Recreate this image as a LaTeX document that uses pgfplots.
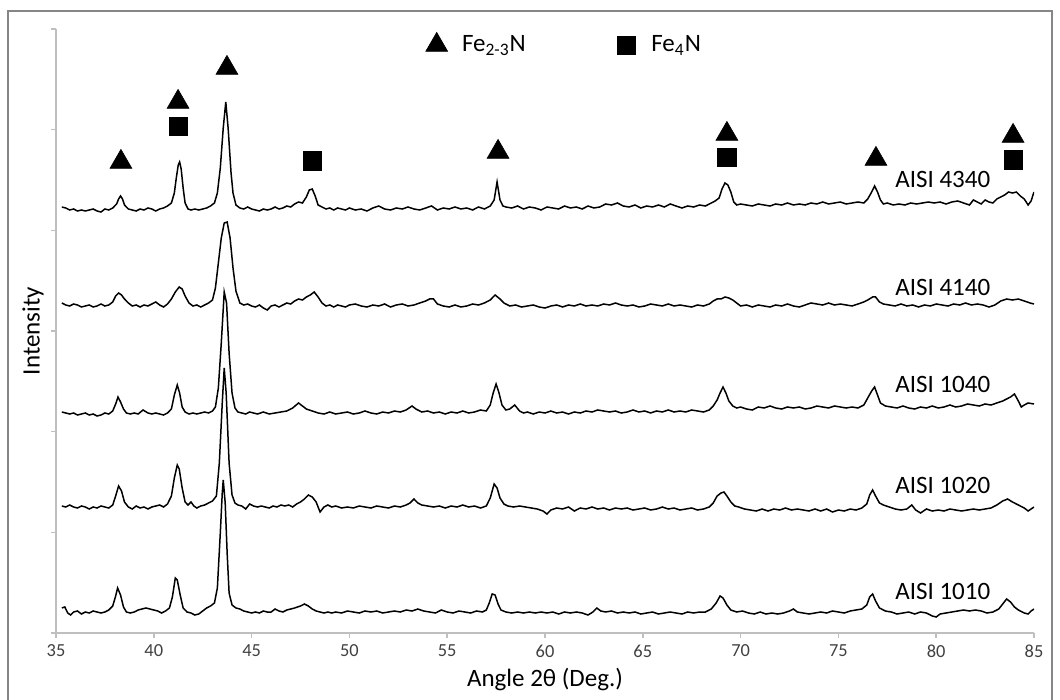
\documentclass[border=0pt]{standalone}
\usepackage{fontspec}
\setmainfont{Carlito}
\usepackage{pgfplots}
\pgfplotsset{compat=1.18}
\pgfplotsset{legend image code/.code={\draw[#1] plot coordinates {(0bp,0bp)}; \path (-6bp,0bp) (10.5bp,0bp);}}
\definecolor{axgray}{RGB}{191,191,191}
\definecolor{framegray}{RGB}{134,134,134}
\definecolor{ticktext}{RGB}{64,64,64}
\begin{document}
\begin{tikzpicture}
\useasboundingbox (-28bp,-33.5bp) rectangle (502bp,316.5bp);
\draw[framegray, line width=0.6bp] (-24bp,-40bp) -- (-24bp,311bp) -- (498bp,311bp) -- (498bp,-40bp);
\begin{axis}[
  at={(0,0)}, anchor=south west,
  scale only axis, width=489bp, height=302bp,
  xmin=35, xmax=85, ymin=0, ymax=604,
  axis lines*=left,
  axis line style={axgray, line width=0.75bp},
  tick style={axgray, line width=0.75bp},
  tick align=outside, major tick length=2.5bp,
  xtick={35,40,...,85},
  ytick={0,100.67,201.33,302,402.67,503.33,604},
  yticklabels={},
  /pgf/number format/assume math mode=true,
  xticklabel style={font=\fontsize{9.2bp}{10bp}\selectfont, text=ticktext},
  xlabel={Angle 2θ (Deg.)},
  xlabel style={at={(axis description cs:0.5,-0.0778)}, anchor=center, font=\fontsize{12.5bp}{14bp}\selectfont},
  ylabel={Intensity},
  ylabel style={at={(axis description cs:-0.0235,0.5)}, anchor=center, font=\fontsize{12.5bp}{14bp}\selectfont},
  legend style={at={(axis description cs:0.3763,0.9735)}, anchor=west, draw=none, fill=none, inner sep=0pt,
    font=\fontsize{12.5bp}{14bp}\selectfont, /tikz/every even column/.append style={column sep=42bp}},
  legend columns=2,
  every axis plot/.append style={black, line width=0.75bp},
]
% AISI 4340
\addplot[forget plot] table {
35.3 426
35.5 425
35.7 423
35.9 424
36.1 422
36.3 423
36.5 422
36.7 423
36.9 424
37.1 422
37.3 421
37.5 424
37.7 423
37.9 425
38.1 429
38.2 434
38.3 437
38.4 434
38.5 428
38.7 424
38.9 423
39.1 422
39.3 424
39.5 423
39.7 425
39.9 424
40.1 422
40.3 424
40.5 425
40.7 427
40.9 430
41.05 440
41.15 455
41.25 468
41.32 471
41.4 464
41.5 445
41.6 430
41.75 424
41.9 423
42.1 424
42.3 423
42.5 424
42.7 425
42.9 427
43.1 430
43.25 440
43.4 465
43.55 505
43.68 531
43.8 505
43.95 460
44.05 440
44.2 428
44.4 425
44.6 424
44.8 426
45.0 424
45.2 423
45.4 422
45.6 424
45.8 423
46.0 424
46.2 426
46.4 424
46.6 425
46.8 427
47.0 426
47.2 429
47.4 431
47.6 430
47.8 436
47.95 443
48.1 444
48.25 437
48.4 428
48.6 426
48.8 424
49.0 425
49.2 423
49.4 425
49.6 424
49.8 423
50.0 425
50.3 423
50.6 424
50.9 422
51.2 425
51.5 427
51.8 424
52.1 423
52.4 425
52.7 424
53.0 426
53.3 424
53.6 423
53.9 425
54.2 427
54.5 423
54.8 425
55.1 424
55.4 426
55.7 424
56.0 425
56.3 423
56.6 426
56.9 424
57.2 427
57.4 433
57.55 451
57.7 433
57.85 427
58.0 426
58.3 425
58.6 427
58.9 424
59.2 426
59.5 425
59.8 423
60.1 426
60.4 425
60.7 424
61.0 427
61.3 425
61.6 426
61.9 424
62.2 427
62.5 425
62.8 426
63.1 429
63.4 428
63.7 430
64.0 427
64.3 426
64.6 428
64.9 425
65.2 427
65.5 426
65.8 428
66.1 426
66.4 429
66.7 427
67.0 425
67.3 427
67.6 426
67.9 428
68.2 427
68.5 430
68.7 432
68.9 435
69.05 444
69.2 450
69.35 448
69.5 441
69.65 431
69.8 428
70.0 429
70.3 428
70.6 427
70.9 429
71.2 428
71.5 427
71.8 429
72.1 428
72.4 430
72.7 428
73.0 429
73.3 428
73.6 430
73.9 429
74.2 431
74.5 429
74.8 430
75.1 431
75.4 429
75.7 430
76.0 431
76.3 430
76.5 434
76.7 441
76.85 447
77.0 441
77.15 433
77.3 429
77.5 430
77.8 428
78.1 429
78.4 428
78.7 430
79.0 429
79.3 430
79.6 431
79.9 430
80.2 431
80.5 429
80.8 431
81.1 432
81.4 430
81.7 428
81.9 433
82.1 431
82.3 429
82.5 433
82.7 431
82.9 430
83.1 434
83.3 436
83.5 438
83.7 441
83.9 440
84.1 441
84.3 437
84.5 434
84.7 428
84.85 432
85.0 441
};
% AISI 4140
\addplot[forget plot] table {
35.3 330
35.5 328
35.7 327
35.9 329
36.1 328
36.3 326
36.5 327
36.7 328
36.9 326
37.1 327
37.3 329
37.5 327
37.7 328
37.9 331
38.05 337
38.2 340
38.35 338
38.5 334
38.7 330
38.9 327
39.1 328
39.3 326
39.5 328
39.7 327
39.9 329
40.1 331
40.3 328
40.5 326
40.7 329
40.9 334
41.1 341
41.3 346
41.45 344
41.6 337
41.8 330
42.0 327
42.2 328
42.4 326
42.6 328
42.8 330
43.0 333
43.15 345
43.3 370
43.45 395
43.6 410
43.75 411
43.9 395
44.05 365
44.2 342
44.4 330
44.6 328
44.8 329
45.0 327
45.2 326
45.4 328
45.6 325
45.8 323
46.0 327
46.2 328
46.4 326
46.6 328
46.8 330
47.0 329
47.2 332
47.4 334
47.6 333
47.8 336
48.0 338
48.2 341
48.4 336
48.6 330
48.8 327
49.0 328
49.2 326
49.4 328
49.6 327
49.8 326
50.0 328
50.3 329
50.6 327
50.9 326
51.2 328
51.5 327
51.8 329
52.1 326
52.4 328
52.7 329
53.0 327
53.3 328
53.6 330
53.9 332
54.1 334
54.3 334
54.5 329
54.8 327
55.1 326
55.4 328
55.7 326
56.0 327
56.3 329
56.6 328
56.9 330
57.2 333
57.45 338
57.7 334
57.9 330
58.2 327
58.5 328
58.8 326
59.1 327
59.4 328
59.7 326
60.0 325
60.3 327
60.6 328
60.9 326
61.2 328
61.5 327
61.8 329
62.1 327
62.4 328
62.7 327
63.0 329
63.3 328
63.6 330
63.9 328
64.2 327
64.5 328
64.8 326
65.1 327
65.4 329
65.7 328
66.0 327
66.3 329
66.6 327
66.9 328
67.2 327
67.5 326
67.8 328
68.1 327
68.4 329
68.6 332
68.8 334
69.0 334
69.2 336
69.4 335
69.6 333
69.8 330
70.0 327
70.3 328
70.6 326
70.9 328
71.2 327
71.5 326
71.8 328
72.1 327
72.4 329
72.7 327
73.0 326
73.3 328
73.6 330
73.9 329
74.2 328
74.5 330
74.8 328
75.1 329
75.4 328
75.7 327
76.0 329
76.3 331
76.5 333
76.75 336
76.9 336
77.1 331
77.3 329
77.6 328
77.9 327
78.2 329
78.5 327
78.8 328
79.1 326
79.4 328
79.7 327
80.0 329
80.3 328
80.6 327
80.9 329
81.2 328
81.5 330
81.8 328
82.1 329
82.4 328
82.7 326
83.0 328
83.3 332
83.6 334
83.9 333
84.2 334
84.5 332
84.8 330
85.0 329
};
% AISI 1040
\addplot[forget plot] table {
35.3 221
35.5 220
35.7 219
35.9 220
36.1 218
36.3 219
36.5 220
36.7 218
36.9 219
37.1 217
37.3 218
37.5 220
37.7 219
37.9 222
38.05 229
38.17 236
38.3 231
38.45 224
38.6 220
38.8 219
39.0 220
39.2 219
39.45 223
39.7 220
39.9 219
40.1 220
40.3 219
40.5 218
40.7 220
40.9 224
41.05 238
41.2 248
41.32 240
41.45 226
41.6 221
41.8 219
42.0 220
42.2 219
42.4 220
42.6 221
42.8 220
43.0 222
43.15 226
43.3 245
43.45 290
43.6 341
43.72 330
43.85 280
44.0 240
44.15 225
44.3 221
44.5 220
44.7 219
44.9 221
45.1 220
45.3 219
45.6 221
45.9 219
46.2 220
46.5 221
46.8 222
47.1 225
47.4 230
47.6 227
47.8 224
48.1 222
48.4 220
48.7 219
49.0 221
49.3 219
49.6 220
49.9 221
50.2 219
50.5 220
50.8 222
51.1 220
51.4 219
51.7 221
52.0 220
52.3 222
52.6 221
52.9 223
53.2 227
53.4 224
53.7 221
54.0 222
54.3 220
54.6 221
54.9 219
55.2 221
55.5 220
55.8 222
56.1 220
56.4 221
56.7 223
57.0 222
57.2 228
57.35 240
57.5 249
57.65 240
57.8 228
58.0 223
58.2 224
58.45 228
58.7 222
58.9 220
59.1 221
59.4 219
59.7 221
60.0 220
60.3 222
60.6 220
60.9 221
61.2 219
61.5 221
61.8 220
62.1 222
62.4 221
62.7 223
63.0 222
63.3 221
63.6 222
63.9 220
64.2 221
64.5 223
64.8 221
65.1 222
65.4 220
65.7 222
66.0 221
66.3 223
66.6 221
66.9 222
67.2 221
67.5 223
67.8 222
68.1 221
68.4 223
68.6 227
68.8 233
68.95 240
69.1 246
69.25 240
69.4 232
69.6 227
69.8 225
70.0 226
70.3 224
70.6 223
70.9 226
71.2 225
71.5 227
71.8 225
72.1 224
72.4 226
72.7 225
73.0 226
73.3 224
73.6 225
73.9 227
74.2 226
74.5 225
74.8 227
75.1 226
75.4 225
75.7 226
76.0 225
76.3 228
76.5 235
76.7 242
76.85 246
77.0 238
77.15 230
77.4 227
77.7 226
78.0 225
78.3 227
78.6 225
78.9 224
79.2 226
79.5 225
79.8 227
80.1 225
80.4 226
80.7 228
81.0 226
81.3 227
81.6 229
81.9 228
82.2 227
82.5 229
82.8 228
83.1 230
83.4 232
83.6 234
83.8 236
84.0 239
84.2 232
84.35 226
84.5 228
84.7 230
85.0 229
};
% AISI 1020
\addplot[forget plot] table {
35.3 127
35.5 126
35.7 128
35.9 126
36.1 125
36.3 127
36.5 126
36.7 124
36.9 126
37.1 125
37.3 127
37.5 126
37.7 125
37.9 128
38.05 137
38.2 147
38.35 142
38.5 131
38.7 126
38.9 124
39.1 127
39.3 125
39.5 126
39.7 124
39.9 126
40.1 127
40.3 128
40.5 126
40.7 129
40.9 137
41.05 155
41.2 168
41.3 164
41.45 145
41.6 131
41.75 128
41.9 131
42.05 127
42.2 125
42.4 127
42.6 128
42.8 130
43.0 132
43.2 137
43.35 170
43.5 230
43.6 265
43.7 240
43.85 170
44.0 138
44.15 130
44.3 128
44.5 127
44.7 124
44.9 129
45.1 127
45.3 126
45.5 127
45.7 126
45.9 125
46.1 127
46.3 126
46.5 128
46.7 127
46.9 128
47.1 126
47.3 129
47.5 131
47.7 134
47.9 138
48.1 136
48.3 131
48.5 121
48.7 126
48.9 128
49.1 126
49.3 127
49.6 125
49.9 126
50.2 125
50.5 127
50.8 126
51.1 125
51.4 127
51.7 126
52.0 125
52.3 127
52.6 126
52.9 128
53.1 130
53.3 134
53.5 130
53.7 128
54.0 127
54.3 126
54.6 127
54.9 125
55.2 127
55.5 126
55.8 128
56.1 126
56.4 127
56.7 125
57.0 127
57.2 135
57.4 149
57.55 145
57.7 135
57.9 129
58.1 127
58.4 126
58.7 127
59.0 126
59.3 125
59.6 124
59.9 122
60.1 119
60.3 123
60.6 125
60.9 124
61.2 126
61.5 122
61.8 125
62.1 124
62.4 126
62.7 124
63.0 125
63.3 123
63.6 125
63.9 124
64.2 125
64.5 123
64.8 124
65.1 125
65.4 123
65.7 124
66.0 126
66.3 124
66.6 125
66.9 123
67.2 124
67.5 125
67.8 123
68.1 124
68.4 126
68.6 130
68.8 137
69.0 140
69.15 141
69.3 137
69.5 131
69.7 127
69.9 126
70.2 124
70.5 123
70.8 122
71.1 124
71.4 122
71.7 124
72.0 123
72.3 125
72.6 123
72.9 124
73.2 123
73.5 122
73.8 124
74.1 122
74.4 124
74.7 121
75.0 123
75.3 122
75.6 124
75.9 123
76.2 125
76.45 129
76.6 138
76.75 143
76.9 137
77.1 130
77.3 128
77.6 126
77.9 124
78.2 123
78.5 124
78.75 128
78.95 123
79.2 120
79.5 124
79.8 122
80.1 123
80.4 122
80.7 124
81.0 123
81.3 122
81.6 123
81.9 124
82.2 123
82.5 124
82.8 125
83.1 128
83.4 132
83.65 134
83.9 131
84.2 128
84.5 125
84.7 122
84.85 124
85.0 126
};
% AISI 1010
\addplot[forget plot] table {
35.3 25
35.45 26
35.6 20
35.75 18
35.9 21
36.1 22
36.3 19
36.5 21
36.7 20
36.9 22
37.1 21
37.3 20
37.5 21
37.7 23
37.9 27
38.05 37
38.15 45
38.3 38
38.45 26
38.6 21
38.8 20
39.0 21
39.2 23
39.4 24
39.6 25
39.8 24
40.0 23
40.2 22
40.4 20
40.6 22
40.8 25
40.95 36
41.1 55
41.2 53
41.35 38
41.5 25
41.7 21
41.9 20
42.1 18
42.3 19
42.5 22
42.7 25
42.9 27
43.1 30
43.25 45
43.4 100
43.5 140
43.55 153
43.65 130
43.75 80
43.85 40
44.0 28
44.2 25
44.4 24
44.6 22
44.8 21
45.0 20
45.2 21
45.4 20
45.6 22
45.8 21
46.0 21
46.2 24
46.4 22
46.6 21
46.8 23
47.0 24
47.2 25
47.5 27
47.7 29
47.9 27
48.1 24
48.3 22
48.5 21
48.7 20
48.9 21
49.1 20
49.3 21
49.6 20
49.9 22
50.2 21
50.5 20
50.8 22
51.1 21
51.4 22
51.7 20
52.0 21
52.3 22
52.6 21
52.9 23
53.2 22
53.5 24
53.8 22
54.1 21
54.4 20
54.7 23
55.0 21
55.3 20
55.6 22
55.9 21
56.2 20
56.5 22
56.8 21
57.0 23
57.15 30
57.3 39
57.45 38
57.6 29
57.75 23
58.0 21
58.3 20
58.6 21
58.9 20
59.2 21
59.5 20
59.8 21
60.1 20
60.4 21
60.7 19
61.0 21
61.3 20
61.6 21
61.9 20
62.2 18
62.45 21
62.65 25
62.85 22
63.1 21
63.4 22
63.7 20
64.0 21
64.3 20
64.6 21
64.9 19
65.2 20
65.5 21
65.8 19
66.1 20
66.4 21
66.7 20
67.0 19
67.3 21
67.6 20
67.9 21
68.2 21
68.5 24
68.75 30
68.95 37
69.1 35
69.3 28
69.5 23
69.8 21
70.1 22
70.4 20
70.7 19
71.0 21
71.3 19
71.6 20
71.9 19
72.2 20
72.5 22
72.7 24
72.9 21
73.2 20
73.5 19
73.8 20
74.1 21
74.4 20
74.7 22
75.0 21
75.3 20
75.6 22
75.9 23
76.2 24
76.45 28
76.6 36
76.75 39
76.9 32
77.1 25
77.4 22
77.7 21
78.0 19
78.3 20
78.6 21
78.9 19
79.2 21
79.5 20
79.8 17
80.0 16
80.2 19
80.5 20
80.8 21
81.1 22
81.4 23
81.7 22
82.0 23
82.3 22
82.6 20
82.9 21
83.2 24
83.4 29
83.6 34
83.8 31
84.0 26
84.2 23
84.5 20
84.7 19
84.85 22
85.0 24
};
% phase markers
\addplot[only marks, mark=triangle*, mark size=6.3bp, line width=0.3bp] coordinates {
(38.32,471) (41.24,531) (43.74,565) (57.6,481) (69.3,499) (76.92,474) (83.93,497)
};
\addlegendentry{Fe\textsubscript{2-3}N}
\addplot[only marks, mark=square*, mark size=4.6bp, line width=0.3bp] coordinates {
(41.24,506.5) (48.09,472) (69.3,475.5) (83.93,473)
};
\addlegendentry{Fe\textsubscript{4}N}
\node[anchor=base west, inner sep=0pt, font=\fontsize{12.5bp}{14bp}\selectfont] at (axis cs:77.89,445) {AISI 4340};
\node[anchor=base west, inner sep=0pt, font=\fontsize{12.5bp}{14bp}\selectfont] at (axis cs:77.89,337) {AISI 4140};
\node[anchor=base west, inner sep=0pt, font=\fontsize{12.5bp}{14bp}\selectfont] at (axis cs:77.89,240) {AISI 1040};
\node[anchor=base west, inner sep=0pt, font=\fontsize{12.5bp}{14bp}\selectfont] at (axis cs:77.89,139) {AISI 1020};
\node[anchor=base west, inner sep=0pt, font=\fontsize{12.5bp}{14bp}\selectfont] at (axis cs:77.89,34) {AISI 1010};
\end{axis}
\end{tikzpicture}
\end{document}
